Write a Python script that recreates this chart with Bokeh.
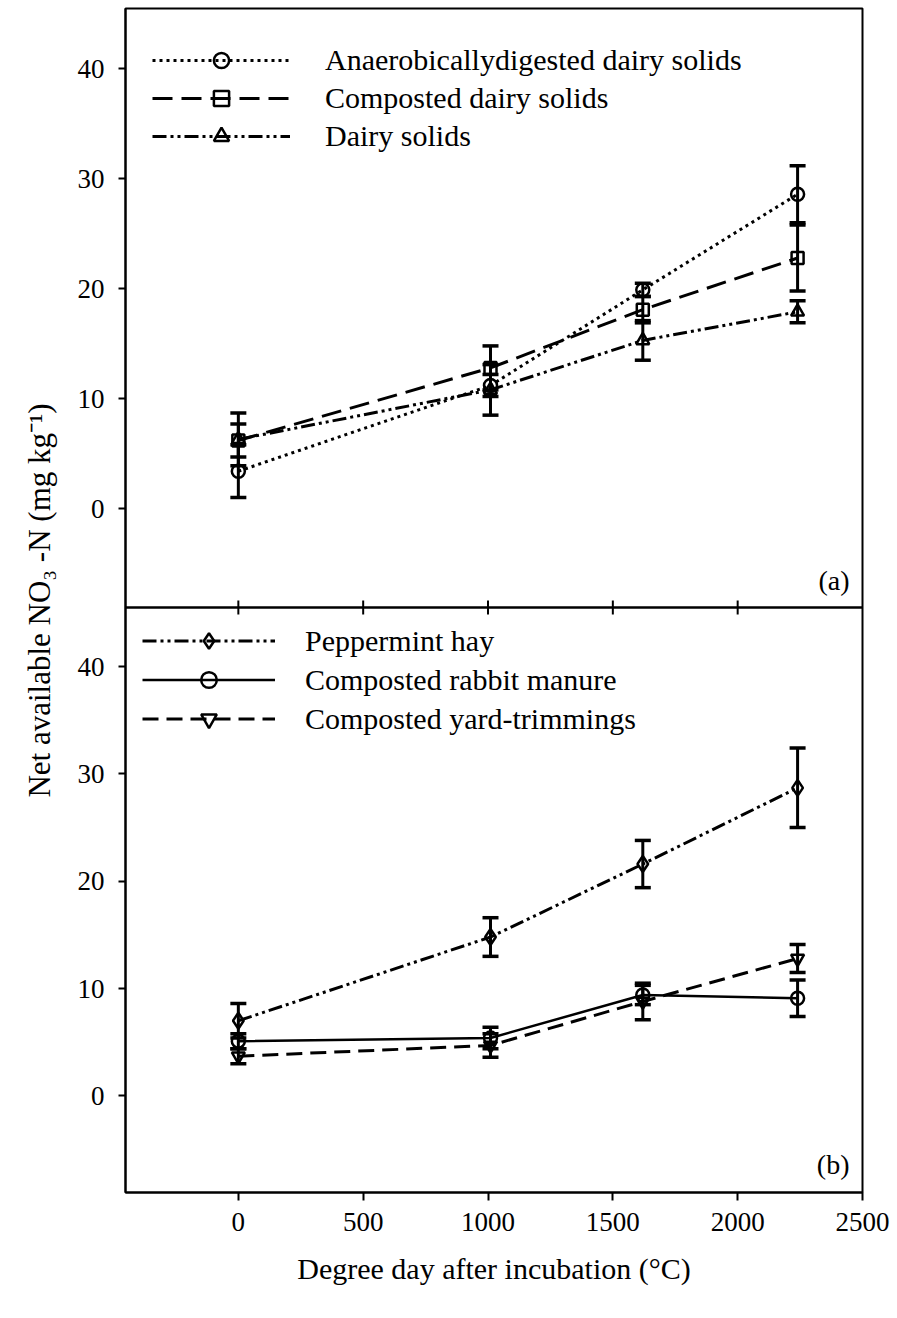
from bokeh.plotting import figure
from bokeh.models import (Range1d, FixedTicker, Whisker, TeeHead, ColumnDataSource,
                          Legend, LegendItem, Label, Span)
from bokeh.embed import file_html
from bokeh.resources import INLINE

# ---------------- data ----------------
degree_days = [0, 1010, 1620, 2240]

# panel (a)
anaerobic = [3.4, 11.2, 19.9, 28.6]
anaerobic_err = [2.4, 1.0, 0.6, 2.6]
composted_dairy = [6.2, 12.8, 18.1, 22.8]
composted_dairy_err = [1.5, 2.0, 1.2, 3.0]
dairy_solids = [6.3, 10.8, 15.3, 17.9]
dairy_solids_err = [2.4, 2.3, 1.8, 1.0]

# panel (b)
peppermint = [7.0, 14.8, 21.6, 28.7]
peppermint_err = [1.6, 1.8, 2.2, 3.7]
rabbit = [5.1, 5.4, 9.4, 9.1]
rabbit_err = [0.7, 1.0, 0.9, 1.7]
yard = [3.7, 4.7, 8.8, 12.8]
yard_err = [0.7, 1.1, 1.7, 1.3]

x_ticks = [0, 500, 1000, 1500, 2000, 2500]
y_ticks = [0, 10, 20, 30, 40]

labels_a = ["Anaerobicallydigested dairy solids", "Composted dairy solids", "Dairy solids"]
labels_b = ["Peppermint hay", "Composted rabbit manure", "Composted yard-trimmings"]

# ---------------- layout ----------------
FONT = "Liberation Serif"
W, H = 897, 1318
FL, FR, FT, FB = 125, 862, 8, 1192          # frame edges (px)
FH = FB - FT                                 # frame height
HA, HB = 599, 585                            # panel heights (px)
YLO, YHI = -9.0, 45.5                        # data limits of each panel
sa = HA / (YHI - YLO)
sb = HB / (YHI - YLO)
range_a = Range1d(YHI - FH / sa, YHI)
range_b = Range1d(YLO, YLO + FH / sb)

p = figure(width=W, height=H, output_backend="svg", toolbar_location=None,
           x_range=Range1d(-452, 2500), y_range=Range1d(0, FH),
           min_border_left=FL, min_border_right=W - FR,
           min_border_top=FT, min_border_bottom=H - FB)
p.extra_y_ranges = {"a": range_a, "b": range_b}
p.xgrid.visible = False
p.ygrid.visible = False
p.outline_line_color = "black"
p.outline_line_width = 2
p.background_fill_color = "white"
p.border_fill_color = "white"

# x axis
p.xaxis.ticker = FixedTicker(ticks=x_ticks)
p.xaxis.major_tick_out = 8
p.xaxis.major_tick_in = 0
p.xaxis.minor_tick_out = 0
p.xaxis.minor_tick_in = 0
p.xaxis.major_label_standoff = 12
p.xaxis.major_label_text_font = FONT
p.xaxis.major_label_text_font_size = "27px"
p.xaxis.major_label_text_color = "black"
p.xaxis.axis_line_width = 2
p.xaxis.axis_line_color = "black"
p.xaxis.major_tick_line_width = 2
p.xaxis.major_tick_line_color = "black"
p.xaxis.axis_label = "Degree day after incubation (\u00b0C)"
p.xaxis.axis_label_text_font = FONT
p.xaxis.axis_label_text_font_size = "30px"
p.xaxis.axis_label_text_font_style = "normal"
p.xaxis.axis_label_text_color = "black"
p.xaxis.axis_label_standoff = 18

# y axis: ticks for both panels on one axis
pos, overrides = [], {}
for v in y_ticks:
    pa = round(HB + (v - YLO) * sa, 2)
    pb = round((v - YLO) * sb, 2)
    pos += [pa, pb]
    overrides[pa] = str(v)
    overrides[pb] = str(v)
p.yaxis.ticker = FixedTicker(ticks=sorted(pos))
p.yaxis.major_label_overrides = overrides
p.yaxis.major_tick_out = 7
p.yaxis.major_tick_in = 0
p.yaxis.minor_tick_out = 0
p.yaxis.minor_tick_in = 0
p.yaxis.major_label_standoff = 14
p.yaxis.major_label_text_font = FONT
p.yaxis.major_label_text_font_size = "27px"
p.yaxis.major_label_text_color = "black"
p.yaxis.axis_line_width = 2
p.yaxis.axis_line_color = "black"
p.yaxis.major_tick_line_width = 2
p.yaxis.major_tick_line_color = "black"
p.yaxis.axis_label = "Net available NO\u2083 -N (mg kg\u207b\u00b9)"
p.yaxis.axis_label_text_font = FONT
p.yaxis.axis_label_text_font_size = "31px"
p.yaxis.axis_label_text_font_style = "normal"
p.yaxis.axis_label_text_color = "black"
p.yaxis.axis_label_standoff = 18

# panel boundary with ticks crossing it
p.add_layout(Span(location=HB, dimension="width", line_color="black", line_width=2.5))
inner = x_ticks[:-1]
p.segment(x0=inner, y0=[HB - 7] * len(inner), x1=inner, y1=[HB + 7] * len(inner),
          line_color="black", line_width=2)


def series(y, err, rng, dash, marker, size, lw):
    lr = p.line(degree_days, y, y_range_name=rng, line_color="black",
                line_width=lw, line_dash=dash)
    src = ColumnDataSource(dict(x=degree_days,
                                lower=[a - e for a, e in zip(y, err)],
                                upper=[a + e for a, e in zip(y, err)]))
    w = Whisker(source=src, base="x", lower="lower", upper="upper",
                dimension="height", y_range_name=rng,
                line_color="black", line_width=3,
                upper_head=TeeHead(size=16, line_width=3.5, line_color="black"),
                lower_head=TeeHead(size=16, line_width=3.5, line_color="black"))
    p.add_layout(w)
    sr = p.scatter(degree_days, y, y_range_name=rng, marker=marker, size=size,
                   line_color="black", line_width=2.5, fill_alpha=0)
    return [lr, sr]


ra1 = series(anaerobic, anaerobic_err, "a", "3 4", "circle", 13, 3)
ra2 = series(composted_dairy, composted_dairy_err, "a", "20 9", "square", 12, 3)
ra3 = series(dairy_solids, dairy_solids_err, "a", "14 4 3 4 3 4", "triangle", 13, 3)

rb1 = series(peppermint, peppermint_err, "b", "14 4 3 4 3 4", "diamond", 16, 3)
rb2 = series(rabbit, rabbit_err, "b", "solid", "circle", 13, 2.5)
rb3 = series(yard, yard_err, "b", "16 8", "inverted_triangle", 13, 3)


def make_legend(labels, rends, loc, gw, standoff, rowh):
    leg = Legend(items=[LegendItem(label=l, renderers=r) for l, r in zip(labels, rends)],
                 location=loc, orientation="vertical",
                 glyph_width=gw, glyph_height=rowh, label_height=rowh,
                 label_standoff=standoff, spacing=0, padding=0, margin=0,
                 border_line_alpha=0, background_fill_alpha=0,
                 label_text_font=FONT, label_text_font_size="30px",
                 label_text_color="black")
    p.add_layout(leg)


make_legend(labels_a, [ra1, ra2, ra3], (27, FB - 155), 138, 35, 38)
make_legend(labels_b, [rb1, rb2, rb3], (17, FB - 738), 133, 30, 39)

p.add_layout(Label(x=2448, y=-6.5, y_range_name="a", text="(a)", text_align="right",
                   text_baseline="middle", text_font=FONT, text_font_size="28px",
                   text_color="black"))
p.add_layout(Label(x=2448, y=-6.4, y_range_name="b", text="(b)", text_align="right",
                   text_baseline="middle", text_font=FONT, text_font_size="28px",
                   text_color="black"))

open("out.html", "w").write(file_html(p, INLINE))
